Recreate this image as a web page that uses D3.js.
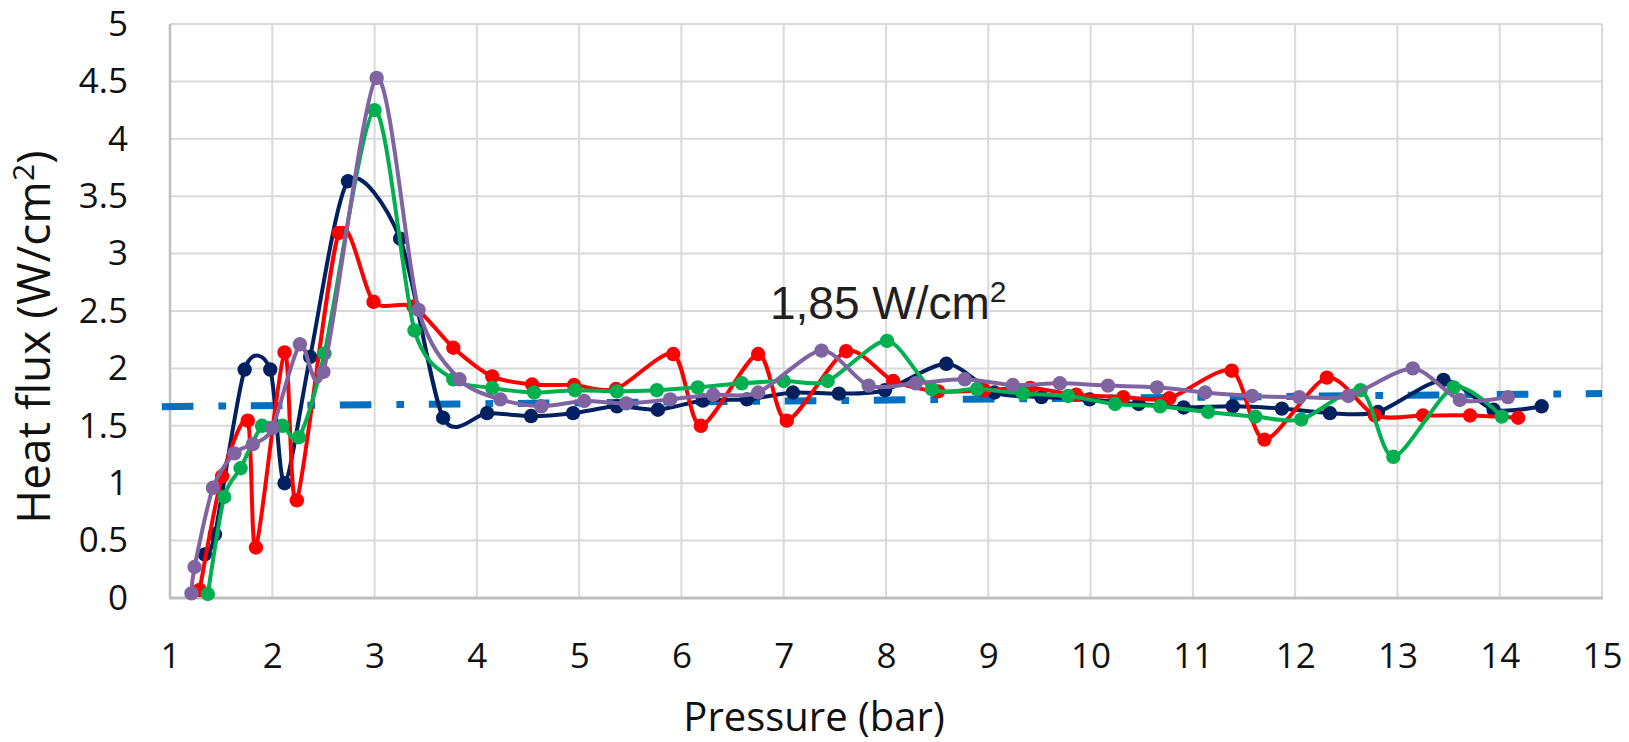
<!DOCTYPE html>
<html lang="en">
<head>
    <meta charset="UTF-8">
    <script src="https://d3js.org/d3.v7.min.js"></script>
    <title>Heat flux vs pressure</title>
    <style>
        body {
            margin: 0;
            background-color: #ffffff;
        }
        svg {
            display: block;
        }
        .tick text {
            font-family: "Open Sans", sans-serif;
            fill: #111;
        }
    </style>
</head>
<body>

    <svg id="chart" width="1629" height="742"></svg>

    <script>
        // values
        const navyX = [1.34, 1.44, 1.73, 1.98, 2.12, 2.37, 2.74, 3.25, 3.67, 4.10, 4.53, 4.94, 5.37, 5.77, 6.21, 6.64, 7.09, 7.54, 7.99, 8.59, 9.06, 9.52, 9.99, 10.47, 10.91, 11.39, 11.87, 12.34, 12.81, 13.45, 13.94, 14.41];
        const navyY = [0.38, 0.555, 1.99, 1.99, 1.00, 2.10, 3.63, 3.13, 1.57, 1.61, 1.585, 1.61, 1.67, 1.64, 1.72, 1.73, 1.79, 1.78, 1.81, 2.04, 1.79, 1.75, 1.73, 1.69, 1.66, 1.67, 1.65, 1.61, 1.62, 1.90, 1.64, 1.67];

        const redX = [1.29, 1.51, 1.76, 1.84, 2.12, 2.24, 2.65, 2.99, 3.38, 3.77, 4.15, 4.54, 4.95, 5.36, 5.92, 6.19, 6.75, 7.03, 7.61, 8.07, 8.51, 8.96, 9.41, 9.86, 10.32, 10.77, 11.38, 11.70, 12.31, 12.78, 13.25, 13.71, 14.18];
        const redY = [0.07, 1.06, 1.545, 0.44, 2.14, 0.85, 3.18, 2.58, 2.54, 2.18, 1.93, 1.86, 1.855, 1.82, 2.125, 1.50, 2.125, 1.545, 2.15, 1.89, 1.80, 1.81, 1.83, 1.77, 1.75, 1.74, 1.98, 1.38, 1.92, 1.59, 1.59, 1.59, 1.57];

        const greenX = [1.37, 1.53, 1.69, 1.90, 2.10, 2.26, 2.51, 3.00, 3.39, 3.77, 4.15, 4.56, 4.96, 5.37, 5.76, 6.16, 6.59, 7.00, 7.43, 8.01, 8.45, 8.89, 9.34, 9.78, 10.24, 10.68, 11.15, 11.61, 12.06, 12.64, 12.96, 13.55, 14.02];
        const greenY = [0.035, 0.88, 1.13, 1.50, 1.50, 1.40, 2.13, 4.25, 2.33, 1.905, 1.83, 1.79, 1.81, 1.80, 1.81, 1.835, 1.87, 1.89, 1.89, 2.24, 1.82, 1.82, 1.78, 1.76, 1.69, 1.67, 1.62, 1.58, 1.555, 1.81, 1.23, 1.835, 1.58];

        const purpleX = [1.21, 1.24, 1.42, 1.63, 1.81, 2.00, 2.27, 2.50, 3.02, 3.43, 3.83, 4.23, 4.63, 5.05, 5.46, 5.89, 6.31, 6.75, 7.37, 7.83, 8.29, 8.77, 9.24, 9.70, 10.17, 10.65, 11.12, 11.58, 12.04, 12.52, 13.15, 13.61, 14.08];
        const purpleY = [0.04, 0.27, 0.96, 1.26, 1.34, 1.48, 2.21, 1.97, 4.53, 2.51, 1.905, 1.73, 1.67, 1.716, 1.695, 1.73, 1.77, 1.79, 2.155, 1.85, 1.87, 1.905, 1.855, 1.87, 1.85, 1.835, 1.79, 1.76, 1.75, 1.76, 2.00, 1.725, 1.75];

        // linear trend line (two ends)
        const trendX = [0.92, 15];
        const trendY = [1.667, 1.781];

        const xTicks = [1, 2, 3, 4, 5, 6, 7, 8, 9, 10, 11, 12, 13, 14, 15];
        const yTicks = [0, 0.5, 1, 1.5, 2, 2.5, 3, 3.5, 4, 4.5, 5];

        const svg = d3.select("#chart");

        const plotLeft = 170, plotRight = 1602, plotTop = 24, plotBottom = 598;

        const x = d3.scaleLinear().domain([1, 15]).range([plotLeft, plotRight]);
        const y = d3.scaleLinear().domain([0, 5]).range([plotBottom, plotTop]);

        // grid
        const grid = svg.append("g");
        grid.selectAll(".vg")
            .data(xTicks)
            .enter().append("line")
            .attr("x1", d => x(d)).attr("x2", d => x(d))
            .attr("y1", plotTop).attr("y2", plotBottom)
            .attr("stroke", "#d9d9d9")
            .attr("stroke-width", 2);
        grid.selectAll(".hg")
            .data(yTicks)
            .enter().append("line")
            .attr("x1", plotLeft).attr("x2", plotRight)
            .attr("y1", d => y(d)).attr("y2", d => y(d))
            .attr("stroke", "#d9d9d9")
            .attr("stroke-width", 2);

        // axis lines
        svg.append("line")
            .attr("x1", plotLeft).attr("x2", plotLeft)
            .attr("y1", plotTop).attr("y2", plotBottom)
            .attr("stroke", "#bfbfbf").attr("stroke-width", 2.5);
        svg.append("line")
            .attr("x1", plotLeft - 1).attr("x2", plotRight + 1)
            .attr("y1", plotBottom).attr("y2", plotBottom)
            .attr("stroke", "#bfbfbf").attr("stroke-width", 3);

        // tick labels
        const xAxis = svg.append("g")
            .attr("transform", `translate(0, ${plotBottom})`)
            .call(d3.axisBottom(x).tickValues(xTicks).tickSize(0).tickPadding(45).tickFormat(d => String(d)));
        xAxis.select(".domain").remove();
        xAxis.selectAll("text").style("font-size", "35px");

        const yAxis = svg.append("g")
            .attr("transform", `translate(${plotLeft}, 0)`)
            .call(d3.axisLeft(y).tickValues(yTicks).tickSize(0).tickPadding(42).tickFormat(d => String(d)));
        yAxis.select(".domain").remove();
        yAxis.selectAll("text").style("font-size", "35px");

        // trend line
        const line = d3.line()
            .x(d => x(d[0]))
            .y(d => y(d[1]));

        svg.append("path")
            .datum(d3.zip(trendX, trendY))
            .attr("d", line)
            .attr("fill", "none")
            .attr("stroke", "#0070c0")
            .attr("stroke-width", 7)
            .attr("stroke-dasharray", "31.6,25,7.7,24.7");

        // series, smoothed like excel
        const smooth = d3.line()
            .x(d => x(d[0]))
            .y(d => y(d[1]))
            .curve(d3.curveCardinal.tension(0.2));

        const series = [
            { xs: navyX, ys: navyY, color: "#002060" },
            { xs: redX, ys: redY, color: "#ff0000" },
            { xs: greenX, ys: greenY, color: "#00b050" },
            { xs: purpleX, ys: purpleY, color: "#8064a2" }
        ];

        series.forEach(s => {
            const pts = d3.zip(s.xs, s.ys);
            const g = svg.append("g");
            g.append("path")
                .datum(pts)
                .attr("d", smooth)
                .attr("fill", "none")
                .attr("stroke", s.color)
                .attr("stroke-width", 4);
            g.selectAll("circle")
                .data(pts)
                .enter().append("circle")
                .attr("cx", d => x(d[0]))
                .attr("cy", d => y(d[1]))
                .attr("r", 7.2)
                .attr("fill", s.color);
        });

        // annotation
        const note = svg.append("text")
            .attr("x", 770)
            .attr("y", 319)
            .attr("font-family", "Liberation Sans, Arial, sans-serif")
            .attr("font-size", 46)
            .attr("fill", "#231f20");
        note.append("tspan").text("1,85 W/cm");
        note.append("tspan").attr("dy", -17).attr("font-size", 30).text("2");

        // axis titles
        const yTitle = svg.append("text")
            .attr("transform", `translate(50, 337) rotate(-90)`)
            .attr("text-anchor", "middle")
            .attr("font-family", "Open Sans, sans-serif")
            .attr("font-size", 46)
            .attr("fill", "#111");
        yTitle.append("tspan").text("Heat flux (W/cm");
        yTitle.append("tspan").attr("dy", -16).attr("font-size", 30).text("2");
        yTitle.append("tspan").attr("dy", 16).text(")");

        svg.append("text")
            .attr("x", 814)
            .attr("y", 731)
            .attr("text-anchor", "middle")
            .attr("font-family", "Open Sans, sans-serif")
            .attr("font-size", 40)
            .attr("fill", "#111")
            .text("Pressure (bar)");
    </script>

</body>
</html>
